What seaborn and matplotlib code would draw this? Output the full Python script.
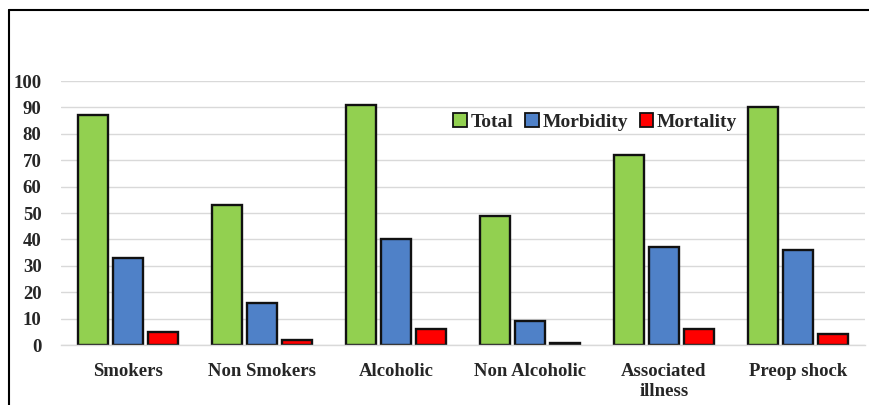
import matplotlib
matplotlib.use("Agg")
import matplotlib.pyplot as plt
from matplotlib.lines import Line2D
import seaborn as sns
import pandas as pd

categories = ["Smokers", "Non Smokers", "Alcoholic", "Non Alcoholic",
              "Associated\nillness", "Preop shock"]
series = ["Total", "Morbidity", "Mortality"]
total = [87, 53, 91, 49, 72, 90]
morbidity = [33, 16, 40, 9, 37, 36]
mortality = [5, 2, 6, 0.7, 6, 4]
y_ticks = [0, 10, 20, 30, 40, 50, 60, 70, 80, 90, 100]

colors = ["#92D050", "#4F81C8", "#FF0000"]

df = pd.DataFrame({
    "category": categories * 3,
    "series": [s for s in series for _ in categories],
    "value": total + morbidity + mortality,
})

sns.set_theme(style="white")
plt.rcParams["font.family"] = ["Liberation Serif", "DejaVu Serif"]
plt.rcParams["font.weight"] = "bold"

W, H = 869, 405
fig = plt.figure(figsize=(W / 100, H / 100), dpi=100)
ax = fig.add_axes([61 / W, 1 - 345 / H, (865 - 61) / W, (345 - 81) / H])

sns.barplot(data=df, x="category", y="value", hue="series",
            order=categories, hue_order=series, palette=colors,
            width=0.78, gap=0.12, edgecolor="#111111", linewidth=1.7,
            saturation=1, ax=ax)

ax.set_ylim(0, 100)
ax.set_yticks(y_ticks)
ax.set_yticklabels([str(v) for v in y_ticks], fontsize=13.5, fontweight="bold")
ax.set_xticks(range(len(categories)))
ax.set_xticklabels(categories, fontsize=13.5, fontweight="bold", linespacing=1.2)
ax.tick_params(axis="y", length=0, pad=14)
ax.tick_params(axis="x", length=0, pad=13)
ax.set_xlabel("")
ax.set_ylabel("")
ax.yaxis.grid(True, color="#D9D9D9", linewidth=1)
ax.set_axisbelow(True)
for side in ["left", "right", "top"]:
    ax.spines[side].set_visible(False)
ax.spines["bottom"].set_color("#D9D9D9")
ax.spines["bottom"].set_linewidth(1)

leg = ax.legend(loc="upper left", bbox_to_anchor=((453 - 61) / (865 - 61), (345 - 113) / (345 - 81)),
                ncol=3, frameon=False, fontsize=14, handlelength=0.7,
                handleheight=0.7, handletextpad=0.2, columnspacing=0.6,
                borderaxespad=0, borderpad=0)
for h in leg.legend_handles:
    h.set_edgecolor("#111111")
    h.set_linewidth(1.3)
for t in leg.get_texts():
    t.set_fontweight("bold")

# outer frame: left and top edges
fig.add_artist(Line2D([9 / W, 9 / W], [0, 1 - 9.5 / H], transform=fig.transFigure,
                      color="black", linewidth=1.5))
fig.add_artist(Line2D([9 / W, 1], [1 - 9.5 / H, 1 - 9.5 / H], transform=fig.transFigure,
                      color="black", linewidth=1.5))

fig.savefig("out.png", dpi=100)
